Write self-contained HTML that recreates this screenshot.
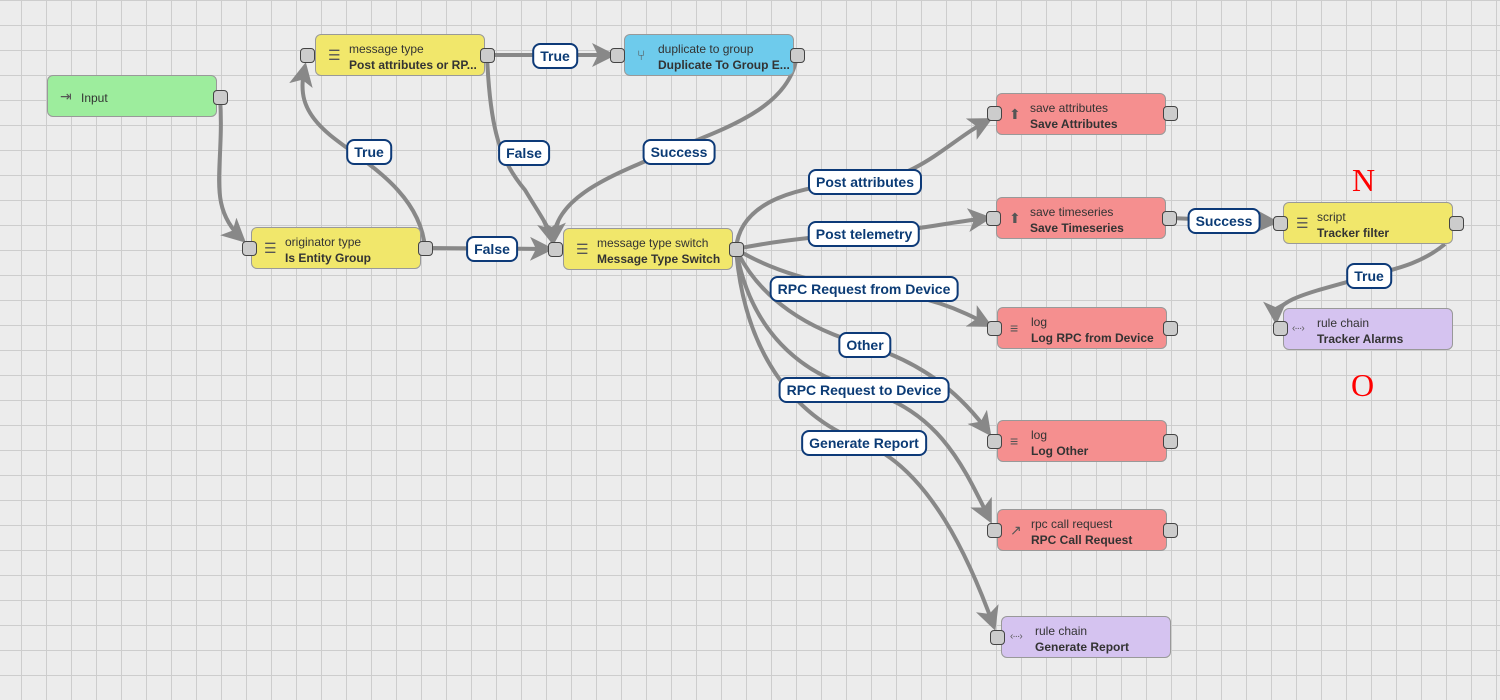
<!DOCTYPE html>
<html><head><meta charset="utf-8"><style>
body{margin:0;width:1500px;height:700px;overflow:hidden;background-color:#ececec;
background-image:linear-gradient(to right,#cdcdcd 1px,transparent 1px),linear-gradient(to bottom,#cdcdcd 1px,transparent 1px);
background-size:25px 25px;background-position:21px 0;font-family:"Liberation Sans",sans-serif;position:relative}
.n{position:absolute;width:170px;height:42px;border:1px solid #999;border-radius:6px;box-sizing:border-box;font-size:12px;color:#333}
.n .t{position:absolute;left:33px;top:6px;line-height:16px;white-space:nowrap}
.n .t b{font-weight:bold}
.n .i{position:absolute;left:12px;top:12px;font-size:14px;color:#555}
.n .s{font-size:10px;left:8px;top:14px;letter-spacing:-1px}
.p{position:absolute;width:15px;height:15px;background:#ccc;border:1px solid #444;border-radius:4px;box-sizing:border-box}
.l{position:absolute;transform:translate(-50%,-50%);background:#fff;border:2px solid #0d3a78;border-radius:8px;color:#0b3b75;font-weight:bold;font-size:14px;padding:3px 6px;white-space:nowrap;line-height:16px}
.y{background:#f1e76b}.r{background:#f58f8f}.g{background:#9ded9d}.b{background:#6ecbec}.v{background:#d5c3f0}
</style></head><body>
<svg width="1500" height="700" style="position:absolute;left:0;top:0">
<defs><marker id="a" markerWidth="6" markerHeight="6" refX="5" refY="3" orient="auto" markerUnits="strokeWidth"><path d="M0,0 L6,3 L0,6 L1.5,3z" fill="#888"/></marker></defs>
<g fill="none" stroke="#888" stroke-width="4" marker-end="url(#a)">
<path d="M220,97 C225,170 205,205 243,240"/>
<path d="M425,248 C420,190 360,160 330,135 C300,110 300,90 305,66"/>
<path d="M487,55 L612,55"/>
<path d="M487,55 C490,130 500,160 525,190 C540,215 550,228 553,242"/>
<path d="M797,55 C790,110 720,130 660,155 C600,180 555,200 553,242"/>
<path d="M425,248 L550,249"/>
<path d="M736,249 C740,200 800,185 866,182 C920,178 950,140 989,120"/>
<path d="M736,249 C780,240 820,236 863,234 C920,230 950,222 988,218"/>
<path d="M736,249 C770,270 820,285 864,289 C930,295 960,310 989,325"/>
<path d="M736,249 C760,300 810,330 865,345 C930,365 965,400 989,433"/>
<path d="M736,249 C750,330 800,375 863,390 C940,410 965,470 990,520"/>
<path d="M736,249 C745,360 800,420 864,443 C930,470 970,560 994,627"/>
<path d="M1169,218 L1275,222"/>
<path d="M1445,244 C1420,265 1390,270 1369,276 C1300,295 1275,300 1276,321"/>
</g></svg>
<div class="n g" style="left:47px;top:75px"><span class="i" style="top:12px">⇥</span><div class="t" style="top:14px">Input</div></div>
<div class="n y" style="left:315px;top:34px"><span class="i">☰</span><div class="t">message type<br><b>Post attributes or RP...</b></div></div>
<div class="n b" style="left:624px;top:34px"><span class="i">⑂</span><div class="t">duplicate to group<br><b>Duplicate To Group E...</b></div></div>
<div class="n y" style="left:251px;top:227px"><span class="i">☰</span><div class="t">originator type<br><b>Is Entity Group</b></div></div>
<div class="n y" style="left:563px;top:228px"><span class="i">☰</span><div class="t">message type switch<br><b>Message Type Switch</b></div></div>
<div class="n r" style="left:996px;top:93px"><span class="i">⬆</span><div class="t">save attributes<br><b>Save Attributes</b></div></div>
<div class="n r" style="left:996px;top:197px"><span class="i">⬆</span><div class="t">save timeseries<br><b>Save Timeseries</b></div></div>
<div class="n y" style="left:1283px;top:202px"><span class="i">☰</span><div class="t">script<br><b>Tracker filter</b></div></div>
<div class="n v" style="left:1283px;top:308px"><span class="i s">‹···›</span><div class="t">rule chain<br><b>Tracker Alarms</b></div></div>
<div class="n r" style="left:997px;top:307px"><span class="i">≡</span><div class="t">log<br><b>Log RPC from Device</b></div></div>
<div class="n r" style="left:997px;top:420px"><span class="i">≡</span><div class="t">log<br><b>Log Other</b></div></div>
<div class="n r" style="left:997px;top:509px"><span class="i">↗</span><div class="t">rpc call request<br><b>RPC Call Request</b></div></div>
<div class="n v" style="left:1001px;top:616px"><span class="i s">‹···›</span><div class="t">rule chain<br><b>Generate Report</b></div></div>
<div class="p" style="left:213px;top:90px"></div>
<div class="p" style="left:300px;top:48px"></div><div class="p" style="left:480px;top:48px"></div>
<div class="p" style="left:610px;top:48px"></div><div class="p" style="left:790px;top:48px"></div>
<div class="p" style="left:242px;top:241px"></div><div class="p" style="left:418px;top:241px"></div>
<div class="p" style="left:548px;top:242px"></div><div class="p" style="left:729px;top:242px"></div>
<div class="p" style="left:987px;top:106px"></div><div class="p" style="left:1163px;top:106px"></div>
<div class="p" style="left:986px;top:211px"></div><div class="p" style="left:1162px;top:211px"></div>
<div class="p" style="left:1273px;top:216px"></div><div class="p" style="left:1449px;top:216px"></div>
<div class="p" style="left:1273px;top:321px"></div>
<div class="p" style="left:987px;top:321px"></div><div class="p" style="left:1163px;top:321px"></div>
<div class="p" style="left:987px;top:434px"></div><div class="p" style="left:1163px;top:434px"></div>
<div class="p" style="left:987px;top:523px"></div><div class="p" style="left:1163px;top:523px"></div>
<div class="p" style="left:990px;top:630px"></div>
<div class="l" style="left:555px;top:56px">True</div>
<div class="l" style="left:369px;top:152px">True</div>
<div class="l" style="left:524px;top:153px">False</div>
<div class="l" style="left:679px;top:152px">Success</div>
<div class="l" style="left:492px;top:249px">False</div>
<div class="l" style="left:865px;top:182px">Post attributes</div>
<div class="l" style="left:864px;top:234px">Post telemetry</div>
<div class="l" style="left:864px;top:289px">RPC Request from Device</div>
<div class="l" style="left:865px;top:345px">Other</div>
<div class="l" style="left:864px;top:390px">RPC Request to Device</div>
<div class="l" style="left:864px;top:443px">Generate Report</div>
<div class="l" style="left:1224px;top:221px">Success</div>
<div class="l" style="left:1369px;top:276px">True</div>
<div style="position:absolute;left:1352px;top:162px;font-family:'Liberation Serif',serif;font-size:32px;color:#f00">N</div>
<div style="position:absolute;left:1351px;top:367px;font-family:'Liberation Serif',serif;font-size:32px;color:#f00">O</div>
</body></html>
